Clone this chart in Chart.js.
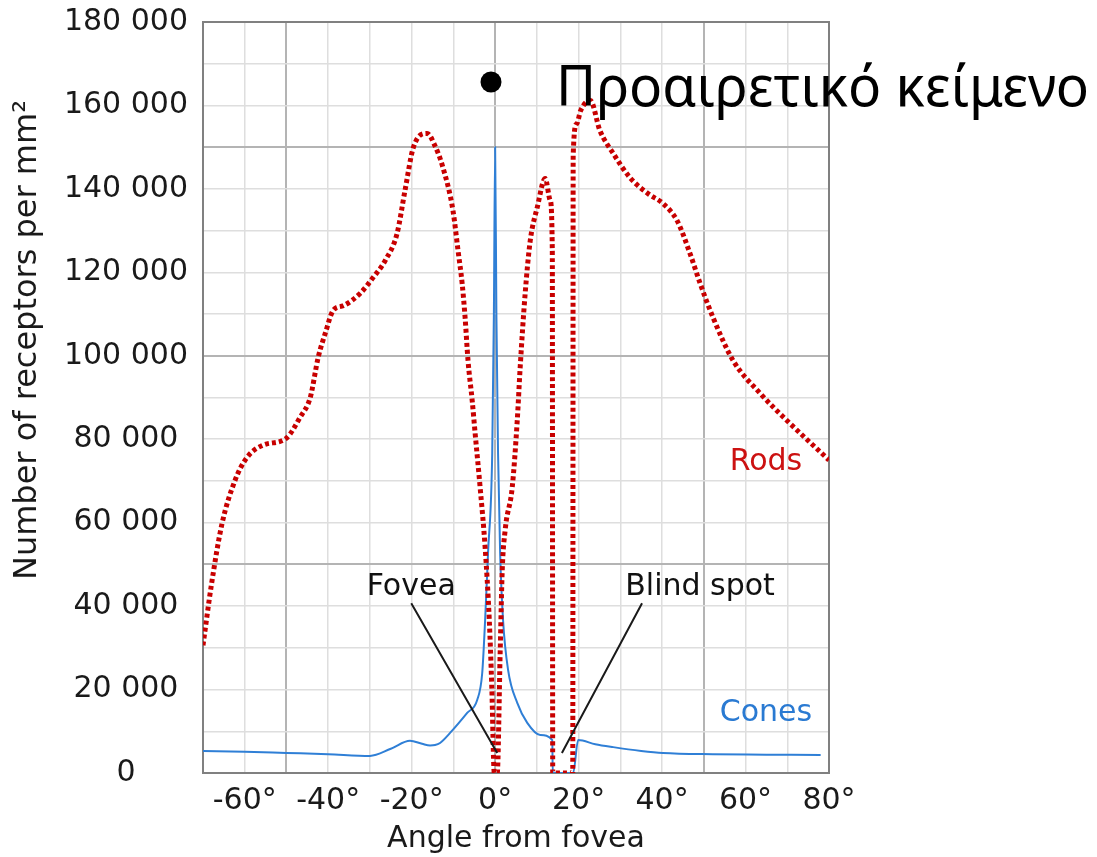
<!DOCTYPE html>
<html>
<head>
<meta charset="utf-8">
<script src="https://cdn.jsdelivr.net/npm/chart.js@4/dist/chart.umd.min.js"></script>
<style>
  html, body { margin: 0; padding: 0; background: #ffffff; }
  #wrap { position: relative; width: 1097px; height: 857px; }
  canvas { display: block; }
</style>
</head>
<body>
<div id="wrap"><canvas id="chart" width="1097" height="857"></canvas></div>
<script>
// Photoreceptor density across the retina (angle in degrees from the fovea)
const rodAngles = [-70, -68, -65.5, -62.3, -59.4, -55.6, -50.1, -46.7, -44.3, -42.4, -40.7, -38.8, -36.4, -32.3,
  -29.2, -26.3, -23.5, -21.6, -19.6, -16.3, -14.5, -12.5, -10.1, -8.9, -7.9, -7.2, -6.5, -5.5, -4.8, -3.6, -2.4, -1.4,
  -0.8, -0.2, 0.5, 1.2, 1.7, 2.4, 4.1, 5.3, 6.0, 7.2, 8.4, 10.1, 12.0, 13.2, 13.7, 13.8, 18.6, 18.7, 19.5, 20.5, 22.8,
  25.1, 28.3, 32.3, 36.6, 40.2, 43.6, 46.7, 49.1, 52.2, 57.0, 63.5, 69.9, 80];
const rodDensity = [30600, 45000, 59500, 70200, 75700, 78600, 80200, 85300, 90000, 99600, 105400, 110900, 112000, 115000,
  118800, 122900, 129300, 139600, 149900, 153300, 150500, 145100, 134800, 125300, 117300, 109200, 98900, 89300, 81500, 68500, 54100, 36600,
  20600, 0, 0, 28700, 48600, 58200, 68500, 84500, 97200, 115000, 127500, 135600, 142500, 137200, 125300, 0, 0, 148000, 155500, 158800, 161200,
  154000, 148500, 142700, 138900, 136500, 132400, 124500, 117400, 109200, 98900, 91000, 84500, 75000];

const coneAngles = [-70, -60, -50, -40, -30, -25, -20.4, -17.5, -15.6, -14.4, -13.2, -10.8, -6.7, -4.3, -3.1, -2.4, -1.7, -0.7, -0.3, 0,
  0.3, 0.7, 1.2, 1.9, 3.1, 5.3, 7.7, 10.8, 13.7, 13.8, 18.7, 19.9, 24, 28.3, 35, 40.2, 52.2, 65, 78];
const coneDensity = [5300, 5100, 4800, 4500, 4100, 5800, 7700, 7000, 6600, 6700, 7200, 9600, 14400, 17500, 23900, 36600, 52700, 76600, 110000, 150000,
  110000, 76600, 52700, 36600, 24700, 16800, 12000, 9100, 7900, 0, 0, 7900, 6900, 6200, 5300, 4800, 4500, 4400, 4300];

// Axis ticks: grid every 10 units, labels every 20
const xLabelValues = [-60, -40, -20, 0, 20, 40, 60, 80];
const yLabelValues = [0, 20000, 40000, 60000, 80000, 100000, 120000, 140000, 160000, 180000];

const seriesNames = ['Rods', 'Cones'];
const calloutNames = ['Fovea', 'Blind spot'];
const overlayText = 'Προαιρετικό κείμενο';

const FONT = 'DejaVu Sans';
const RED = '#c80000';
const BLUE = '#2f7fd6';

function pairs(xs, ys) { return xs.map((x, i) => ({ x: x, y: ys[i] })); }
function spaced(v) { return String(v).replace(/\B(?=(\d{3})+(?!\d))/g, ' '); }

const decorations = {
  id: 'decorations',
  beforeDatasetsDraw(chart) {
    const { ctx, chartArea: a } = chart;
    ctx.save();
    ctx.strokeStyle = '#808080';
    ctx.lineWidth = 2;
    ctx.strokeRect(a.left, a.top, a.right - a.left, a.bottom - a.top);
    ctx.restore();
  },
  afterDatasetsDraw(chart) {
    const { ctx, scales: { x, y } } = chart;
    const px = v => x.getPixelForValue(v);
    const py = v => y.getPixelForValue(v);
    ctx.save();
    // leader lines for the callouts
    ctx.strokeStyle = '#1a1a1a';
    ctx.lineWidth = 2;
    ctx.beginPath();
    ctx.moveTo(px(-20.1), py(40700)); ctx.lineTo(px(0.5), py(4800));
    ctx.moveTo(px(35.2), py(40700)); ctx.lineTo(px(16.0), py(4800));
    ctx.stroke();

    ctx.font = '30px "' + FONT + '"';
    ctx.textAlign = 'center';
    ctx.textBaseline = 'middle';
    ctx.fillStyle = '#111111';
    ctx.fillText(calloutNames[0], px(-20.1), py(44500));
    ctx.fillText(calloutNames[1], px(49.1), py(44500));
    ctx.fillStyle = '#cc1111';
    ctx.fillText(seriesNames[0], px(64.9), py(74500));
    ctx.fillStyle = '#2a7ad2';
    ctx.fillText(seriesNames[1], px(64.9), py(14400));

    // vertical axis title
    ctx.fillStyle = '#1a1a1a';
    ctx.font = '32px "' + FONT + '"';
    ctx.translate(28, 340);
    ctx.rotate(-Math.PI / 2);
    ctx.fillText('Number of receptors per mm²', 0, 0);
    ctx.restore();
  },
  afterDraw(chart) {
    const { ctx } = chart;
    ctx.save();
    ctx.fillStyle = '#000000';
    ctx.beginPath();
    ctx.arc(491, 82, 10.5, 0, Math.PI * 2);
    ctx.fill();
    ctx.font = '57px "Noto Sans"';
    ctx.textAlign = 'left';
    ctx.textBaseline = 'alphabetic';
    const w = ctx.measureText(overlayText).width;
    ctx.translate(556, 106);
    ctx.scale(533 / w, 1);
    ctx.fillText(overlayText, 0, 0);
    ctx.restore();
  }
};

new Chart(document.getElementById('chart'), {
  type: 'line',
  data: {
    datasets: [
      {
        label: seriesNames[0],
        data: pairs(rodAngles, rodDensity),
        borderColor: RED,
        borderWidth: 5,
        borderDash: [4, 3],
        borderCapStyle: 'butt',
        pointRadius: 0,
        fill: false,
        cubicInterpolationMode: 'monotone',
        order: 0
      },
      {
        label: seriesNames[1],
        data: pairs(coneAngles, coneDensity),
        borderColor: BLUE,
        borderWidth: 2,
        pointRadius: 0,
        fill: false,
        cubicInterpolationMode: 'monotone',
        order: 1
      }
    ]
  },
  options: {
    responsive: false,
    animation: false,
    parsing: false,
    layout: { padding: { left: 0, right: 268, top: 22, bottom: 0 } },
    plugins: { legend: { display: false }, tooltip: { enabled: false } },
    scales: {
      x: {
        type: 'linear',
        min: -70,
        max: 80,
        afterFit(scale) { scale.height = 84; scale.paddingLeft = 0; scale.paddingRight = 0; },
        border: { display: false },
        grid: {
          drawTicks: false,
          color: c => (c.tick && c.tick.value % 50 === 0) ? '#b4b4b4' : '#dedede',
          lineWidth: c => (c.tick && c.tick.value % 50 === 0) ? 2 : 1.5
        },
        ticks: {
          stepSize: 10,
          autoSkip: false,
          maxRotation: 0,
          padding: 10,
          color: '#1a1a1a',
          font: { family: FONT, size: 30 },
          callback: v => xLabelValues.includes(v) ? v + '°' : ''
        },
        title: {
          display: true,
          text: 'Angle from fovea',
          color: '#1a1a1a',
          font: { family: FONT, size: 30 },
          padding: { top: 0, bottom: 0 }
        }
      },
      y: {
        type: 'linear',
        min: 0,
        max: 180000,
        afterFit(scale) { scale.width = 203; scale.paddingTop = 0; scale.paddingBottom = 0; },
        border: { display: false },
        grid: {
          drawTicks: false,
          color: c => (c.tick && c.tick.value % 50000 === 0) ? '#b4b4b4' : '#dedede',
          lineWidth: c => (c.tick && c.tick.value % 50000 === 0) ? 2 : 1.5
        },
        ticks: {
          stepSize: 10000,
          autoSkip: false,
          crossAlign: 'center',
          padding: 15,
          color: '#1a1a1a',
          font: { family: FONT, size: 30 },
          callback: v => yLabelValues.includes(v) ? spaced(v) : ''
        }
      }
    }
  },
  plugins: [decorations]
});
</script>
</body>
</html>
